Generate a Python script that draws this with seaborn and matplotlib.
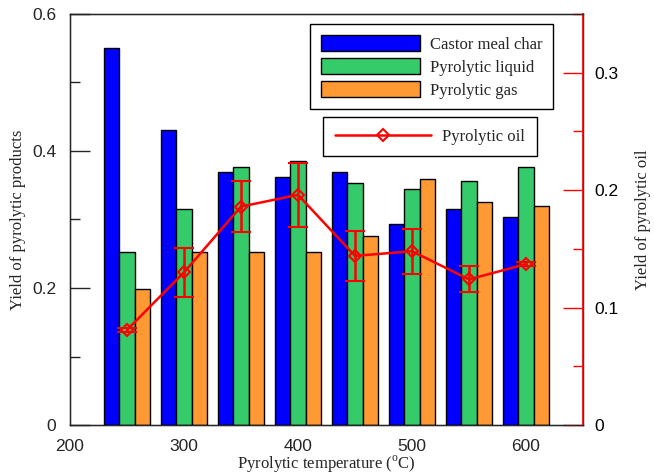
import numpy as np
import pandas as pd
import seaborn as sns
import matplotlib.pyplot as plt
from matplotlib.patches import Patch
from matplotlib.lines import Line2D
from matplotlib.ticker import MultipleLocator, FuncFormatter

temps = [250, 300, 350, 400, 450, 500, 550, 600]
char = [0.550, 0.431, 0.370, 0.362, 0.370, 0.294, 0.316, 0.303]
liquid = [0.252, 0.316, 0.376, 0.386, 0.354, 0.345, 0.356, 0.377]
gas = [0.198, 0.253, 0.253, 0.252, 0.276, 0.359, 0.326, 0.319]
oil = [0.081, 0.130, 0.186, 0.196, 0.144, 0.148, 0.124, 0.137]
oil_err = [0.002, 0.021, 0.022, 0.027, 0.021, 0.019, 0.011, 0.002]

names = ["Castor meal char", "Pyrolytic liquid", "Pyrolytic gas"]
colors = ["#0000FF", "#36CB6A", "#FF9933"]

sns.set_style("ticks")
plt.rcParams['font.family'] = ['Liberation Sans', 'DejaVu Sans']
plt.rcParams['mathtext.fontset'] = 'custom'
plt.rcParams['mathtext.rm'] = 'Liberation Serif'

df = pd.DataFrame({"temp": temps, names[0]: char, names[1]: liquid, names[2]: gas})
long = df.melt(id_vars="temp", var_name="product", value_name="yield")

fig = plt.figure(figsize=(6.54, 4.75), dpi=100)
ax = fig.add_axes([70 / 654, 50 / 475, 513 / 654, 411 / 475])

sns.barplot(data=long, x="temp", y="yield", hue="product", hue_order=names,
            palette=colors, native_scale=True, width=0.8, errorbar=None,
            edgecolor="black", linewidth=1, saturation=1, legend=False, ax=ax)

ax.set_xlim(200, 650)
ax.set_ylim(0, 0.6)
ax.set_xticks([200, 300, 400, 500, 600])
ax.set_xticklabels(["200", "300", "400", "500", "600"])
ax.yaxis.set_major_locator(MultipleLocator(0.2))
ax.yaxis.set_minor_locator(MultipleLocator(0.1))
ax.yaxis.set_major_formatter(FuncFormatter(lambda v, p: f"{v:g}"))
ax.tick_params(axis='y', which='major', direction='in', length=14.5, width=1, labelsize=12.5, pad=10)
ax.tick_params(axis='y', which='minor', direction='in', length=7, width=1)
ax.tick_params(axis='x', length=0, labelsize=12.5, pad=10)
for s in ax.spines.values():
    s.set_color('black')
    s.set_linewidth(1)
ax.set_xlabel("Pyrolytic temperature ($^\\mathregular{o}$C)", family='Liberation Serif', fontsize=12, labelpad=0)
ax.set_ylabel("Yield of pyrolytic products", family='Liberation Serif', fontsize=12, labelpad=4)

ax2 = ax.twinx()
ax2.errorbar(temps, oil, yerr=oil_err, color='red', lw=1.8, capsize=7, capthick=1.8,
             elinewidth=1.8, marker='D', markersize=6, markerfacecolor='none',
             markeredgecolor='red', markeredgewidth=1.5)
ax2.set_ylim(0, 0.35)
ax2.yaxis.set_major_locator(MultipleLocator(0.1))
ax2.yaxis.set_minor_locator(MultipleLocator(0.05))
ax2.yaxis.set_major_formatter(FuncFormatter(lambda v, p: f"{v:g}"))
ax2.tick_params(axis='y', which='major', direction='in', length=14.5, width=1, color='red',
                labelcolor='black', labelsize=12.5, pad=8)
ax2.tick_params(axis='y', which='minor', direction='in', length=7, width=1, color='red')
ax2.spines['right'].set_color('red')
ax2.spines['right'].set_linewidth(1.2)
ax2.set_ylabel("Yield of pyrolytic oil", family='Liberation Serif', fontsize=12, labelpad=12)

leg_font = {'family': 'Liberation Serif', 'size': 12}
handles = [Patch(facecolor=c, edgecolor='black', linewidth=1, label=n) for c, n in zip(colors, names)]
leg1 = ax2.legend(handles=handles, loc='upper right', bbox_to_anchor=(0.9415, 0.9757),
                  borderaxespad=0, prop=leg_font, fancybox=False, edgecolor='black',
                  framealpha=1, handlelength=5.9, handleheight=1.15, labelspacing=0.3,
                  handletextpad=0.6, borderpad=0.65)
leg1.get_frame().set_linewidth(1)
ax2.add_artist(leg1)
oil_handle = Line2D([], [], color='red', lw=1.8, marker='D', markersize=6,
                    markerfacecolor='none', markeredgecolor='red', markeredgewidth=1.5)
leg2 = ax2.legend(handles=[oil_handle], labels=["Pyrolytic oil"], loc='upper right',
                  bbox_to_anchor=(0.910, 0.749), borderaxespad=0, prop=leg_font,
                  fancybox=False, edgecolor='black', framealpha=1, handlelength=5.8,
                  handletextpad=0.65, borderpad=0.7)
leg2.get_frame().set_linewidth(1)

fig.savefig("out.png", dpi=100)
